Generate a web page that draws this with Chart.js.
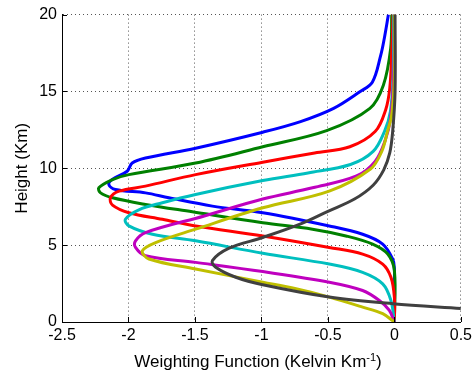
<!DOCTYPE html>
<html>
<head>
<meta charset="utf-8">
<script src="https://cdn.jsdelivr.net/npm/chart.js@4.4.0/dist/chart.umd.min.js"></script>
<style>
  html, body { margin: 0; padding: 0; background: #fff; }
  #wrap { width: 476px; height: 378px; }
</style>
</head>
<body>
<div id="wrap"><canvas id="wfChart" width="476" height="378"></canvas></div>
<script>
// weighting function values (Kelvin/Km) and heights (Km), one pair per channel
const wf1 = [-0.045, -0.075, -0.103, -0.166, -0.26, -0.457, -0.706, -0.99, -1.495, -1.872, -1.972, -2.01, -2.123, -2.148, -2.098, -1.872, -1.696, -1.369, -0.99, -0.49, -0.239, -0.088, -0.013, 0, 0];
const h1  = [20, 18.5, 17.35, 15.6, 14.98, 13.9, 13.04, 12.35, 11.31, 10.67, 10.34, 9.81, 9.27, 8.95, 8.62, 8.4, 8.08, 7.54, 7.11, 6.25, 5.71, 5.07, 4.1, 3.5, 0];

const wf2 = [-0.02, -0.028, -0.083, -0.184, -0.51, -0.99, -1.495, -1.997, -2.12, -2.223, -2.21, -2.12, -1.872, -1.52, -0.99, -0.616, -0.365, -0.164, -0.05, 0, 0];
const h2  = [20, 17.8, 15.4, 13.9, 12.45, 11.4, 10.34, 9.59, 9.27, 8.73, 8.4, 8.08, 7.65, 7.17, 6.46, 6.04, 5.6, 5.07, 4.42, 3.34, 0];

const wf3 = [-0.01, -0.02, -0.035, -0.066, -0.145, -0.335, -0.6, -0.99, -1.495, -1.872, -2.07, -2.136, -2.12, -1.997, -1.745, -1.495, -0.99, -0.49, -0.239, -0.088, -0.026, 0, 0];
const h3  = [20, 17.5, 15.2, 13.8, 12.39, 11.4, 11.0, 10.4, 9.59, 8.84, 8.51, 8.08, 7.6, 7.11, 6.68, 6.25, 5.6, 4.85, 4.42, 3.77, 2.91, 1.6, 0];

const wf4 = [-0.005, -0.01, -0.03, -0.075, -0.16, -0.33, -0.65, -0.99, -1.495, -1.745, -1.922, -2.023, -1.997, -1.82, -1.495, -0.99, -0.49, -0.239, -0.088, -0.026, 0];
const h4  = [20, 16, 13.7, 12.39, 11.1, 10.25, 9.7, 9.2, 8.3, 7.76, 7.3, 6.68, 6.25, 5.71, 5.28, 4.47, 3.77, 3.23, 2.48, 1.4, 0];

const wf5 = [0, -0.005, -0.03, -0.07, -0.145, -0.285, -0.616, -0.99, -1.43, -1.872, -1.947, -1.947, -1.872, -1.495, -0.99, -0.49, -0.239, -0.113, -0.038, 0];
const h5  = [20, 16, 13.2, 11.8, 10.45, 9.5, 8.73, 8.0, 6.9, 5.82, 5.28, 4.85, 4.31, 3.88, 3.28, 2.59, 2.05, 1.4, 0.76, 0];

const wf6 = [0, 0, -0.02, -0.052, -0.095, -0.18, -0.49, -0.99, -1.495, -1.796, -1.896, -1.846, -1.495, -0.99, -0.74, -0.49, -0.239, -0.088, 0];
const h6  = [20, 16, 13.5, 12.4, 11.1, 9.95, 8.51, 7.43, 6.04, 5.17, 4.63, 4.1, 3.45, 2.59, 2.16, 1.62, 0.97, 0.54, 0];

const wf7 = [0.005, 0.005, -0.013, -0.035, -0.08, -0.16, -0.3, -0.5, -0.7, -0.99, -1.243, -1.369, -1.344, -1.193, -0.99, -0.49, -0.013, 0.5];
const h7  = [20, 15, 12.4, 11.0, 9.9, 8.9, 8.0, 7.2, 6.4, 5.5, 4.8, 3.99, 3.56, 2.91, 2.42, 1.62, 1.19, 0.88];

const xTicks = [-2.5, -2, -1.5, -1, -0.5, 0, 0.5];
const yTicks = [0, 5, 10, 15, 20];

const series = [[wf1, h1], [wf2, h2], [wf3, h3], [wf4, h4], [wf5, h5], [wf6, h6], [wf7, h7]];
const colors = ['#0000ff', '#008000', '#ff0000', '#00bfbf', '#bf00bf', '#bfbf00', '#404040'];

const FONT = '"Liberation Sans", Arial, Helvetica, sans-serif';

// inward tick marks + axis titles (with the superscript)
const axisDecor = {
    id: 'axisDecor',
    afterDraw(chart) {
        const { ctx, chartArea: a, scales: { x, y } } = chart;
        ctx.save();
        ctx.strokeStyle = '#000';
        ctx.lineWidth = 1;
        ctx.beginPath();
        xTicks.forEach(v => {
            const px = Math.round(x.getPixelForValue(v)) + 0.5;
            ctx.moveTo(px, a.bottom);
            ctx.lineTo(px, a.bottom - 5);
        });
        yTicks.forEach(v => {
            const py = Math.round(y.getPixelForValue(v)) + 0.5;
            ctx.moveTo(a.left, py);
            ctx.lineTo(a.left + 5, py);
        });
        ctx.stroke();

        ctx.fillStyle = '#000';
        ctx.textBaseline = 'alphabetic';
        ctx.textAlign = 'left';
        const main = 'Weighting Function (Kelvin Km';
        const sup = '-1';
        const end = ')';
        ctx.font = '17px ' + FONT;
        const w1 = ctx.measureText(main).width;
        const w3 = ctx.measureText(end).width;
        ctx.font = '11px ' + FONT;
        const w2 = ctx.measureText(sup).width;
        let sx = 258 - (w1 + w2 + w3) / 2;
        const base = 367;
        ctx.font = '17px ' + FONT;
        ctx.fillText(main, sx, base);
        sx += w1;
        ctx.font = '11px ' + FONT;
        ctx.fillText(sup, sx, base - 6);
        sx += w2;
        ctx.font = '17px ' + FONT;
        ctx.fillText(end, sx, base);

        ctx.translate(27, (a.top + a.bottom) / 2);
        ctx.rotate(-Math.PI / 2);
        ctx.textAlign = 'center';
        ctx.fillText('Height (Km)', 0, 0);
        ctx.restore();
    }
};

const ctx = document.getElementById('wfChart').getContext('2d');
new Chart(ctx, {
    type: 'scatter',
    data: {
        datasets: series.map(([xs, ys], i) => ({
            data: xs.map((v, k) => ({ x: v, y: ys[k] })),
            showLine: true,
            borderColor: colors[i],
            borderWidth: 3,
            pointRadius: 0,
            tension: 0.35,
            fill: false,
            order: series.length - i
        }))
    },
    options: {
        responsive: false,
        animation: false,
        devicePixelRatio: 1,
        layout: { padding: { top: 14, right: 15, left: 0, bottom: 0 } },
        plugins: { legend: { display: false }, tooltip: { enabled: false } },
        scales: {
            x: {
                type: 'linear',
                min: xTicks[0],
                max: xTicks[xTicks.length - 1],
                afterBuildTicks: s => { s.ticks = xTicks.map(v => ({ value: v })); },
                afterFit: s => { s.height = 56; },
                ticks: {
                    color: '#000',
                    padding: 4,
                    font: { family: FONT, size: 16 },
                    maxRotation: 0,
                    autoSkip: false,
                    callback: v => String(v)
                },
                grid: { color: '#555', lineWidth: 1, drawTicks: false },
                border: { display: true, color: '#000', width: 1, dash: [1, 3] }
            },
            y: {
                type: 'linear',
                min: yTicks[0],
                max: yTicks[yTicks.length - 1],
                afterBuildTicks: s => { s.ticks = yTicks.map(v => ({ value: v })); },
                afterFit: s => { s.width = 62; },
                ticks: {
                    color: '#000',
                    padding: 5,
                    font: { family: FONT, size: 16 },
                    autoSkip: false,
                    callback: v => String(v)
                },
                grid: { color: '#555', lineWidth: 1, drawTicks: false },
                border: { display: true, color: '#000', width: 1, dash: [1, 3] }
            }
        }
    },
    plugins: [axisDecor]
});
</script>
</body>
</html>
